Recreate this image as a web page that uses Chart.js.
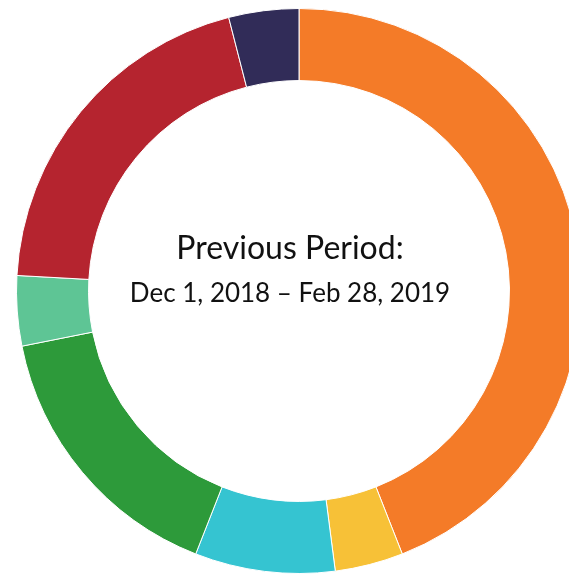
<!DOCTYPE html>
<html>
<head>
<meta charset="utf-8">
<script src="https://cdn.jsdelivr.net/npm/chart.js@4"></script>
<style>
    html, body { margin: 0; padding: 0; background: #fff; overflow: hidden; }
    #wrap { position: absolute; left: 0; top: 0; }
</style>
</head>
<body>
<div id="wrap"><canvas id="myDoughnutChart" width="598" height="582"></canvas></div>
<script>
// chart data (shares in %)
var categories = ['Segment A', 'Segment B', 'Segment C', 'Segment D', 'Segment E', 'Segment F', 'Segment G'];
var shares = [44.0, 3.9, 8.0, 15.9, 4.0, 20.1, 4.0];
var colors = ['#F47B28', '#F7C137', '#35C4D1', '#2D9A3A', '#5EC595', '#B5242F', '#312C58'];
var centerLines = ['Previous Period:', 'Dec 1, 2018 \u2013 Feb 28, 2019'];

// write the period text in the middle of the ring
var centerText = {
    id: 'centerText',
    afterDraw: function (chart) {
        var ctx = chart.ctx;
        ctx.save();
        ctx.fillStyle = '#111';
        ctx.textAlign = 'center';
        ctx.textBaseline = 'alphabetic';
        ctx.font = '32px Lato, "Open Sans", sans-serif';
        ctx.fillText(centerLines[0], 290, 259);
        ctx.font = '26px Lato, "Open Sans", sans-serif';
        ctx.fillText(centerLines[1], 290, 302);
        ctx.restore();
    }
};

document.addEventListener('DOMContentLoaded', function () {
    var ctx = document.getElementById('myDoughnutChart').getContext('2d');
    var myDoughnutChart = new Chart(ctx, {
        type: 'doughnut',
        data: {
            labels: categories,
            datasets: [{
                data: shares,
                backgroundColor: colors,
                borderColor: '#ffffff',
                borderWidth: 1
            }]
        },
        options: {
            responsive: false,
            animation: false,
            cutout: '74.5%',
            layout: { padding: 8 },
            plugins: {
                legend: { display: false },
                tooltip: { enabled: false }
            }
        },
        plugins: [centerText]
    });
});
</script>
</body>
</html>
